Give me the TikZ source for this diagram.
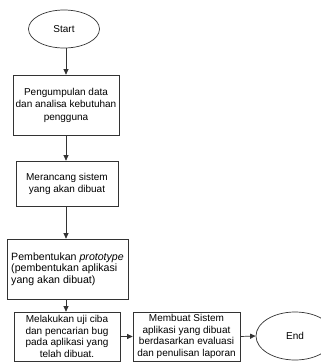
\documentclass[tikz,border=0pt]{standalone}
\usepackage{fontspec}
\setmainfont{Liberation Sans}
\usetikzlibrary{shapes.geometric,arrows.meta}
\begin{document}
\begin{tikzpicture}[x=1pt,y=-1pt,
  box/.style={draw=black!80, line width=0.7pt, rectangle, inner sep=0pt, align=center,
    text=black, font=\fontsize{10}{11.5}\selectfont},
  term/.style={draw=black!80, line width=0.7pt, ellipse, inner sep=0pt,
    text=black, font=\fontsize{10}{12}\selectfont},
  flow/.style={draw=black!80, line width=0.7pt, -{Triangle[length=5.5pt,width=5pt]}}]
\useasboundingbox (0,0) rectangle (321,362);
\clip (0,0) rectangle (321,362);
\node[term, minimum width=71pt, minimum height=38pt] (s) at (64,29) {Start};
\node[box, minimum width=106pt, minimum height=60pt, font=\fontsize{10}{12.5}\selectfont] (b1) at (66,105)
  {Pengumpulan data\\dan analisa kebutuhan\\pengguna};
\node[box, minimum width=102pt, minimum height=45pt, font=\fontsize{10}{12}\selectfont] (b2) at (67,183.5)
  {Merancang sistem\\yang akan dibuat};
\node[box, minimum width=121pt, minimum height=60pt, align=left, font=\fontsize{10.6}{11.5}\selectfont] (b3) at (67.5,269)
  {Pembentukan \textit{prototype}\\(pembentukan aplikasi\\yang akan dibuat)};
\node[box, minimum width=106pt, minimum height=49pt] (b4) at (67,336.5)
  {Melakukan uji ciba\\dan pencarian bug\\pada aplikasi yang\\telah dibuat.};
\node[box, minimum width=107pt, minimum height=49pt] (b5) at (186.5,336.5)
  {Membuat Sistem\\aplikasi yang dibuat\\berdasarkan evaluasi\\dan penulisan laporan};
\node[term, minimum width=78pt, minimum height=48pt] (e) at (295,336) {End};
\draw[flow] (b1.north |- s.south) -- (b1.north);
\draw[flow] (b1.south) -- (b1.south |- b2.north);
\draw[flow] (b1.south |- b2.south) -- (b1.south |- b3.north);
\draw[flow] (b1.south |- b3.south) -- (b1.south |- b4.north);
\draw[flow] (b4.east) -- (b5.west);
\draw[flow] (b5.east) -- (e.west);
\end{tikzpicture}
\end{document}
